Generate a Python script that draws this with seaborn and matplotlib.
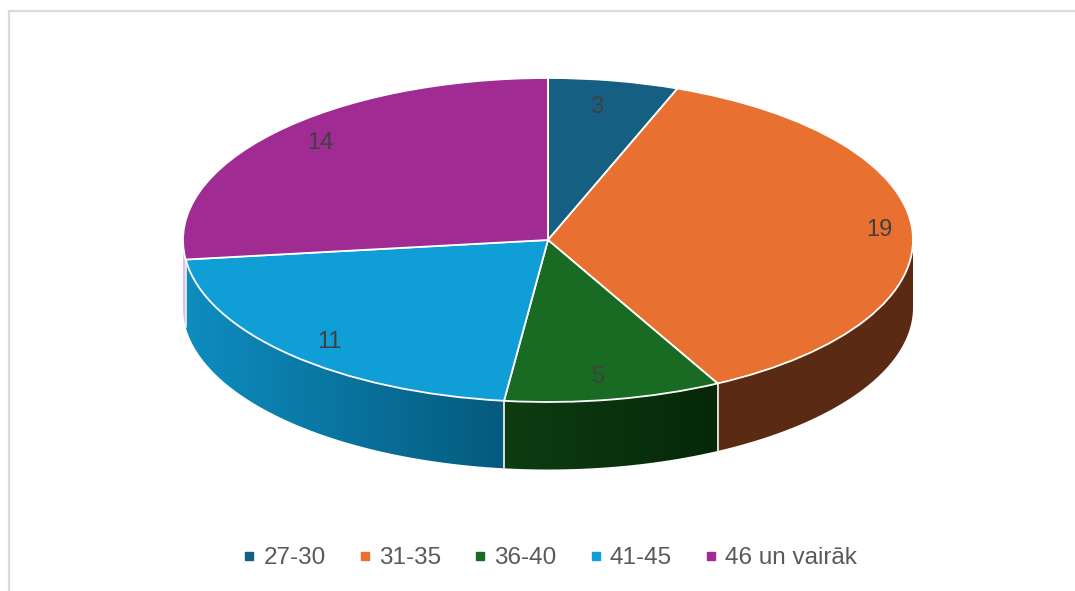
import numpy as np
import matplotlib
matplotlib.use("Agg")
import matplotlib.pyplot as plt
from matplotlib.lines import Line2D
from matplotlib.patches import Polygon
import seaborn as sns

# data
categories = ["27-30", "31-35", "36-40", "41-45", "46 un vairāk"]
values = [3, 19, 5, 11, 14]

# styles
top_colors = ["#156082", "#E87030", "#196B24", "#0F9ED5", "#A02B93"]
side_shades = [
    ("#0B3041", "#0B3041"),
    ("#5B2A13", "#5B2A13"),
    ("#0E3D12", "#062808"),
    ("#0E8DC0", "#055A7D"),
    ("#E6BFE0", "#E6BFE0"),
]
label_rx = [0.745, 0.91, 0.76, 0.845, 0.834]
label_ry = [0.848, 1.2, 0.848, 0.873, 0.92]

sns.set_theme(style="white")
plt.rcParams["font.family"] = ["Liberation Sans", "DejaVu Sans"]
palette = sns.color_palette(top_colors)

W, H = 1075, 591
cx, cy, rx, ry, depth = 548, 240, 365, 162, 67.5

fig = plt.figure(figsize=(W / 100, H / 100), dpi=100, facecolor="white")
ax = fig.add_axes([0, 0, 1, 1])

wedges, _ = ax.pie(values, colors=palette, startangle=90, counterclock=False,
                   radius=1, wedgeprops=dict(edgecolor="white", linewidth=1.3))

# side wall of the disc, front half only
drop = depth / ry
edges = np.cumsum([0] + values) / sum(values) * 360
for i in range(len(values)):
    a0, a1 = max(edges[i], 90), min(edges[i + 1], 270)
    if a1 <= a0:
        continue
    t = np.radians(np.linspace(a0, a1, 200))
    xs, ys = np.sin(t), np.cos(t)
    outline = np.column_stack([np.r_[xs, xs[::-1]], np.r_[ys, ys[::-1] - drop]])
    shell = Polygon(outline, closed=True, transform=ax.transData, facecolor="none",
                    edgecolor="none")
    ax.add_patch(shell)
    grad = np.array(sns.blend_palette(side_shades[i], n_colors=256))[None, :, :3]
    # image runs a little past the wall so the clip path sets the curved bottom
    im = ax.imshow(grad, extent=[xs.min(), xs.max(), ys.min() - drop - 0.05, ys.max() + 0.05],
                   aspect="auto", zorder=0, interpolation="bilinear")
    im.set_clip_path(shell)
    # light seam where a front wedge starts
    if a0 > 90:
        ax.plot([xs[0]] * 2, [ys[0], ys[0] - drop], color="#E8E8E8", lw=1.3, zorder=0.5)

ax.set_aspect("auto")
ax.set_xlim(-cx / rx, (W - cx) / rx)
ax.set_ylim((cy - H) / ry, cy / ry)
ax.axis("off")

# value labels
for i, v in enumerate(values):
    t = np.radians((edges[i] + edges[i + 1]) / 2)
    ax.annotate(str(v), (label_rx[i] * np.sin(t), label_ry[i] * np.cos(t)),
                xytext=(0, -1.5), textcoords="offset points", ha="center", va="center",
                fontsize=17, color="#404040", zorder=5)

# legend
handles = [Line2D([], [], linestyle="none", marker="s", markersize=6,
                  markerfacecolor=c, markeredgecolor=c) for c in palette]
ax.legend(handles, categories, ncol=5, frameon=False, fontsize=17.5,
          labelcolor="#595959", loc="center", bbox_to_anchor=(550 / W, 1 - 558 / H),
          handlelength=0.5, handletextpad=0.33, columnspacing=1.36, borderpad=0)

# outer frame, only top and left fall inside the picture
frame = "#DADADA"
fig.add_artist(Line2D([9 / W, 9 / W], [0, 1 - 11 / H], color=frame, lw=1.6))
fig.add_artist(Line2D([9 / W, 1], [1 - 11 / H, 1 - 11 / H], color=frame, lw=1.6))

fig.savefig("out.png", dpi=100)
